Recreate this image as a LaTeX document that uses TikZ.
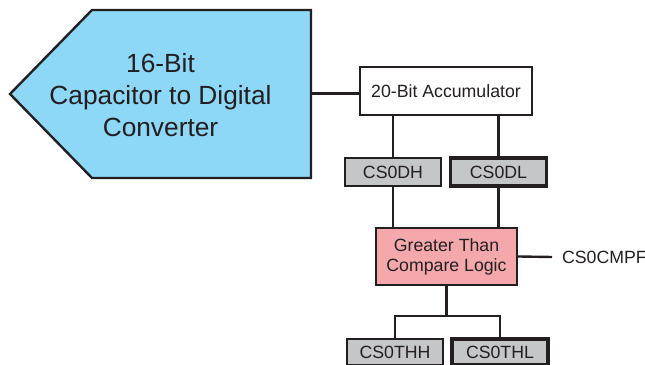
\documentclass[tikz,border=0pt]{standalone}
\usepackage{fontspec}
\setmainfont{Liberation Sans}
\usepackage{tikz}
\usetikzlibrary{positioning, calc}
\definecolor{cdcblue}{HTML}{8DD7F7}
\definecolor{cmppink}{HTML}{F4A8AC}
\definecolor{reggray}{HTML}{C5C6C8}
\definecolor{inkdark}{HTML}{231F20}

\begin{document}
\begin{tikzpicture}[
    x=0.025cm, y=-0.025cm,
    every node/.style={text=inkdark},
    wire/.style={draw=inkdark, line width=1.7pt},
    block/.style={draw=inkdark, line width=1.7pt, fill=#1, inner sep=0pt,
                  align=center, font=\fontsize{12.6}{14.2}\selectfont},
    reg/.style={block=reggray, minimum width=2.4cm, minimum height=#1},
    regthick/.style={reg=#1, line width=2.3pt},
]
    \useasboundingbox (0,0) rectangle (645,365);

    % converter arrow
    \draw[draw=inkdark, line width=1.7pt, fill=cdcblue, line join=miter]
        (10, 94) -- (92, 10) -- (311, 10) -- (311, 178) -- (92, 178) -- cycle;
    \node[align=center, font=\fontsize{18.7}{22.7}\selectfont] (cdc) at (160.5, 95) {16-Bit\\Capacitor to Digital\\Converter};
    \coordinate (cdcout) at (311, 93.5);

    \node[block=white, minimum width=4.3cm, minimum height=1.2cm] (acc) at (446, 91) {20-Bit Accumulator};
    \node[reg=0.7cm] (dh) at (393, 172) {CS0DH};
    \node[regthick=0.7cm] (dl) at (498.5, 172) {CS0DL};
    \node[block=cmppink, minimum width=3.525cm, minimum height=1.425cm] (cmp) at (446.5, 256.5) {Greater Than\\Compare Logic};
    \node[anchor=west, inner xsep=7pt, inner ysep=0pt, font=\fontsize{12.6}{14.2}\selectfont] (cmpf) at (552, 257) {CS0CMPF};
    \node[reg=0.65cm] (thh) at (395, 352) {CS0THH};
    \node[regthick=0.65cm] (thl) at (500, 352) {CS0THL};
    \coordinate (fork) at (446.5, 316);

    \draw[wire] (cdcout) -- (cdcout -| acc.west);
    \draw[wire] (acc.south -| dh.north) -- (dh.north);
    \draw[wire] (acc.south -| dl.north) -- (dl.north);
    \draw[wire] (dh.south) -- (dh.south |- cmp.north);
    \draw[wire] (dl.south) -- (dl.south |- cmp.north);
    \draw[wire] (cmp.east) -- (cmpf.west);

    % threshold registers
    \draw[wire] (cmp.south) -- (fork);
    \draw[wire] (thh.north) |- (fork) -| (thl.north);
\end{tikzpicture}
\end{document}
